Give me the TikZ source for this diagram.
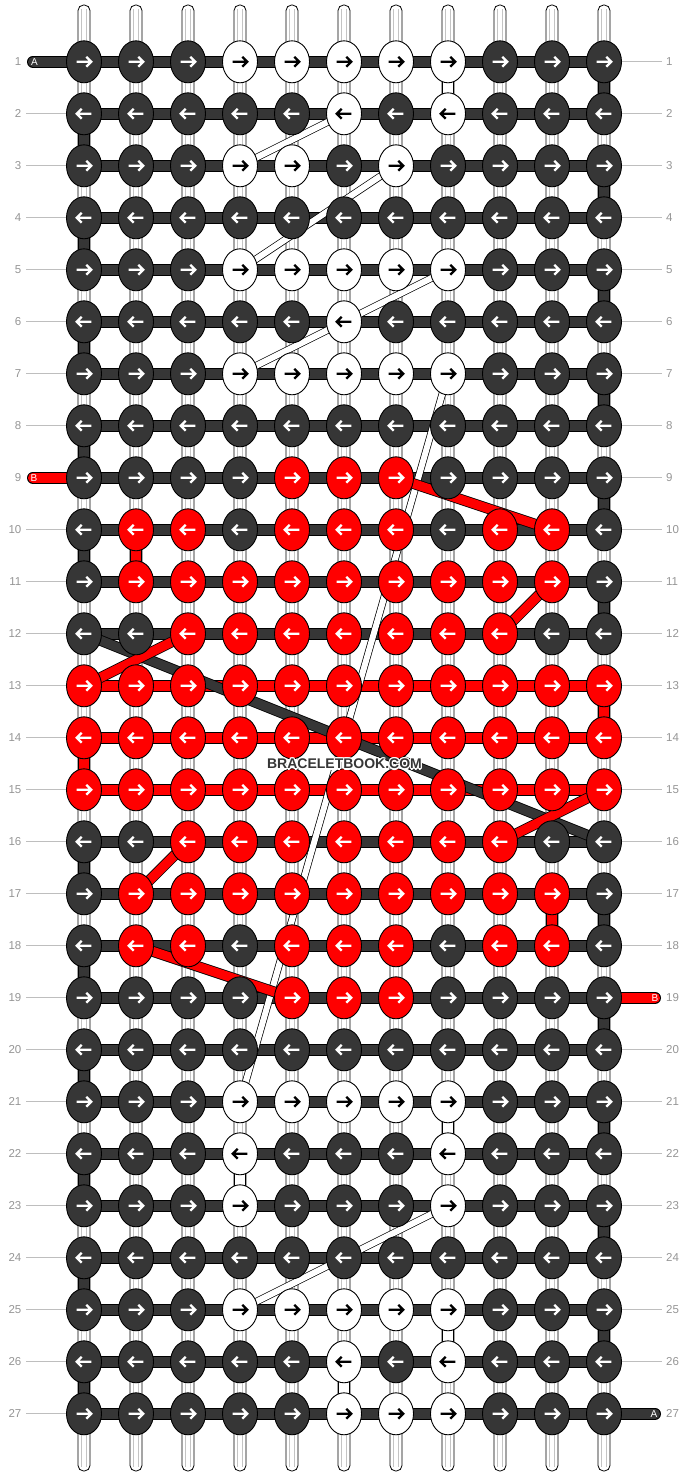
\documentclass[tikz,border=0pt]{standalone}
\usepackage{fontspec}
\setmainfont{Liberation Sans}
\usetikzlibrary{shapes.geometric}
\definecolor{dk}{HTML}{363636}
\definecolor{rd}{HTML}{FF0000}
\colorlet{fillD}{dk}
\colorlet{fillR}{rd}
\colorlet{fillW}{white}
\colorlet{arrD}{white}
\colorlet{arrR}{white}
\colorlet{arrW}{black}
\definecolor{lbl}{HTML}{959595}
\definecolor{lblline}{HTML}{BEBEBE}
\definecolor{warpln}{HTML}{C4C4C4}
\pgfdeclarelayer{warp}\pgfdeclarelayer{bars}\pgfdeclarelayer{diag}
\pgfsetlayers{warp,bars,diag,main}
\tikzset{
  knotsty/.style={ellipse, draw=black, line width=0.9, minimum width=35, minimum height=42, inner sep=0pt},
  arr/.style={line width=2.3, line join=miter, line cap=butt},
  thr/.style={line width=0.9, draw=black, double=#1, double distance=10.2},
  dthr/.style={line width=0.8, draw=black, double=#1, double distance=9.2},
  wthr/.style={line width=0.7, draw=black, double=white, double distance=6.0},
  entry/.style={thr=#1, line cap=round},
  rowlbl/.style={text=lbl, font=\fontsize{11.5}{13}\selectfont, inner sep=0pt},
  rowline/.style={draw=lblline, line width=0.9},
  endlbl/.style={text=white, font=\fontsize{10}{11}\selectfont, inner sep=0pt},
  wmtext/.style={font=\fontsize{14}{16}\selectfont\bfseries, inner sep=0pt},
}
\begin{document}
\begin{tikzpicture}[x=1pt,y=-1pt]
\useasboundingbox (0,0) rectangle (688,1476);
% warp strands
\begin{pgfonlayer}{warp}
\foreach \c in {1,...,11}{
  \pgfmathsetmacro{\xx}{84+52*(\c-1)}
  \draw[fill=white, draw=black, line width=0.8, rounded corners=5.5] (\xx-6,5) rectangle (\xx+6,1471);
  \draw[warpln, line width=0.8] (\xx-2.5,9) -- (\xx-2.5,1467) (\xx+2.5,9) -- (\xx+2.5,1467);
}
\end{pgfonlayer}
% knots
\foreach \r/\cols in {
 1/{D,D,D,W,W,W,W,W,D,D,D},
 2/{D,D,D,D,D,W,D,W,D,D,D},
 3/{D,D,D,W,W,D,W,D,D,D,D},
 4/{D,D,D,D,D,D,D,D,D,D,D},
 5/{D,D,D,W,W,W,W,W,D,D,D},
 6/{D,D,D,D,D,W,D,D,D,D,D},
 7/{D,D,D,W,W,W,W,W,D,D,D},
 8/{D,D,D,D,D,D,D,D,D,D,D},
 9/{D,D,D,D,R,R,R,D,D,D,D},
 10/{D,R,R,D,R,R,R,D,R,R,D},
 11/{D,R,R,R,R,R,R,R,R,R,D},
 12/{D,D,R,R,R,R,R,R,R,D,D},
 13/{R,R,R,R,R,R,R,R,R,R,R},
 14/{R,R,R,R,R,R,R,R,R,R,R},
 15/{R,R,R,R,R,R,R,R,R,R,R},
 16/{D,D,R,R,R,R,R,R,R,D,D},
 17/{D,R,R,R,R,R,R,R,R,R,D},
 18/{D,R,R,D,R,R,R,D,R,R,D},
 19/{D,D,D,D,R,R,R,D,D,D,D},
 20/{D,D,D,D,D,D,D,D,D,D,D},
 21/{D,D,D,W,W,W,W,W,D,D,D},
 22/{D,D,D,W,D,D,D,W,D,D,D},
 23/{D,D,D,W,D,D,D,W,D,D,D},
 24/{D,D,D,D,D,D,D,D,D,D,D},
 25/{D,D,D,W,W,W,W,W,D,D,D},
 26/{D,D,D,D,D,W,D,W,D,D,D},
 27/{D,D,D,D,D,W,W,W,D,D,D}}{
  \pgfmathtruncatemacro{\dir}{mod(\r,2)==1 ? 1 : -1}
  \foreach \k [count=\c] in \cols {
    \node[knotsty, fill=fill\k] (k\r-\c) at ({84+52*(\c-1)},{61.8+52*(\r-1)}) {};
    \draw[arr, draw=arr\k, shift={(k\r-\c.center)}, xscale=\dir] (-7.4,0) -- (7.2,0) (2.3,-4.9) -- (7.2,0) -- (2.3,4.9);
  }
}
% horizontal thread bars and turns
\begin{pgfonlayer}{bars}
\foreach \r in {1,...,27}{
  \ifnum\r>12 \ifnum\r<16 \def\hc{rd}\else\def\hc{dk}\fi \else \def\hc{dk}\fi
  \draw[thr=\hc] (k\r-1.center) -- (k\r-11.center);
}
\foreach \r in {1,...,26}{
  \pgfmathtruncatemacro{\nx}{\r+1}
  \pgfmathtruncatemacro{\cc}{mod(\r,2)==1 ? 11 : 1}
  \pgfmathtruncatemacro{\skip}{(\r>11 && \r<16) ? 1 : 0}
  \ifnum\skip=0 \draw[thr=dk] (k\r-\cc.center) -- (k\nx-\cc.center); \fi
}
\draw[thr=rd] (k10-2.center) -- (k11-2.center);
\draw[thr=rd] (k13-11.center) -- (k14-11.center);
\draw[thr=rd] (k14-1.center) -- (k15-1.center);
\draw[thr=rd] (k17-10.center) -- (k18-10.center);
\draw[thr=white] (k1-8.center) -- (k2-8.center);
\draw[thr=white] (k21-8.center) -- (k22-8.center);
\draw[thr=white] (k22-4.center) -- (k23-4.center);
\draw[thr=white] (k25-8.center) -- (k26-8.center);
\draw[thr=white] (k26-6.center) -- (k27-6.center);
% entry / exit
\coordinate (Ain) at (33,61.8);
\coordinate (Aout) at (655,1413.8);
\coordinate (Bin) at (33,477.8);
\coordinate (Bout) at (655,997.8);
\draw[entry=dk] (Ain) -- (k1-1.center);
\draw[entry=dk] (k27-11.center) -- (Aout);
\draw[entry=rd] (Bin) -- (k9-1.center);
\draw[entry=rd] (k19-11.center) -- (Bout);
\end{pgfonlayer}
% diagonals
\begin{pgfonlayer}{diag}
\draw[wthr] (k2-6.center) -- (k3-4.center);
\draw[wthr] (k3-7.center) -- (k5-4.center);
\draw[wthr] (k5-8.center) -- (k6-6.center);
\draw[wthr] (k6-6.center) -- (k7-4.center);
\draw[wthr] (k7-8.center) -- (k21-4.center);
\draw[wthr] (k23-8.center) -- (k25-4.center);
\draw[dthr=dk] (k12-1.center) -- (k16-11.center);
\draw[dthr=rd] (k9-7.center) -- (k10-10.center);
\draw[dthr=rd] (k11-10.center) -- (k12-9.center);
\draw[dthr=rd] (k12-3.center) -- (k13-1.center);
\draw[dthr=rd] (k15-11.center) -- (k16-9.center);
\draw[dthr=rd] (k16-3.center) -- (k17-2.center);
\draw[dthr=rd] (k18-2.center) -- (k19-5.center);
\end{pgfonlayer}
% end labels
\node[endlbl] (Alab1) at (34.5,62.3) {A};
\node[endlbl] (Alab2) at (654,1414.3) {A};
\node[endlbl] (Blab1) at (34,478.3) {B};
\node[endlbl] (Blab2) at (655,998.3) {B};
% row labels
\foreach \r in {1,...,27}{
  \pgfmathsetmacro{\yy}{61.8+52*(\r-1)}
  \node[rowlbl, anchor=east] (ll\r) at (21.5,\yy) {\r};
  \node[rowlbl, anchor=west] (rl\r) at (666,\yy) {\r};
  \ifnum\r=1\relax\else\ifnum\r=9\relax\else
    \draw[rowline] (k\r-1.west) -- ++(-40,0);
  \fi\fi
  \ifnum\r=19\relax\else\ifnum\r=27\relax\else
    \draw[rowline] (k\r-11.east) -- ++(40,0);
  \fi\fi
}
% watermark
\foreach \dx/\dy [count=\i] in {-1.2/0,1.2/0,0/-1.2,0/1.2,-0.9/-0.9,0.9/0.9,-0.9/0.9,0.9/-0.9}{
  \node[wmtext, text=white] (wmh\i) at (344.5+\dx,764+\dy) {BRACELETBOOK.COM};
}
\node[wmtext, text=dk] (wm) at (344.5,764) {BRACELETBOOK.COM};
\end{tikzpicture}
\end{document}
